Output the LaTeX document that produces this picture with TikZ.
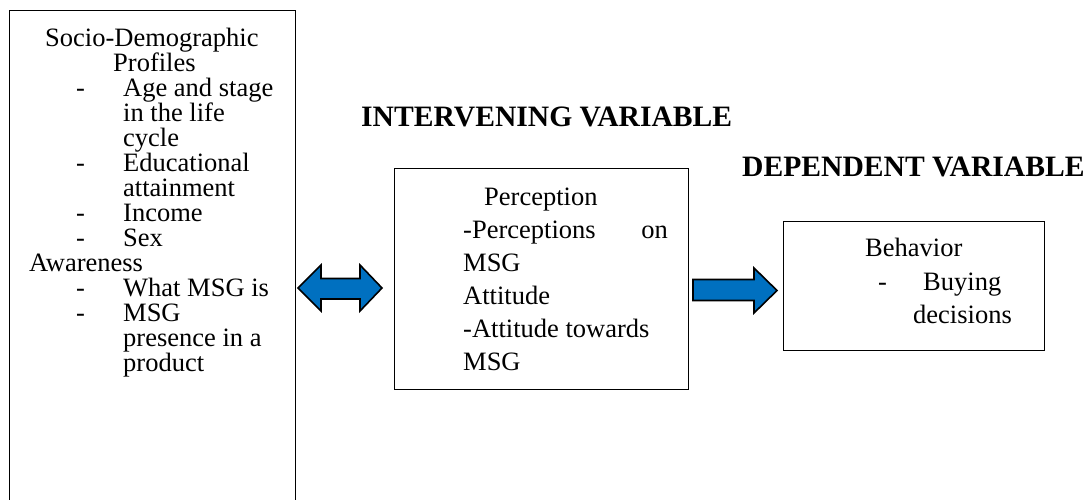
\documentclass[tikz,border=0pt]{standalone}
\usepackage{fontspec}
\setmainfont{Liberation Serif}
\definecolor{arrowblue}{RGB}{0,112,192}
\begin{document}
\begin{tikzpicture}[x=1pt,y=-1pt,
  boxstyle/.style={draw=black,line width=0.9pt,inner sep=0pt,anchor=north west},
  txt/.style={inner sep=0pt,anchor=base west,font=\fontsize{26.5}{26}\selectfont},
  txte/.style={inner sep=0pt,anchor=base east,font=\fontsize{26.5}{26}\selectfont},
  head/.style={inner sep=0pt,anchor=base west,font=\fontsize{29.6}{30}\selectfont\bfseries},
  blockarrow/.style={draw=black,line width=1.6pt,fill=arrowblue,line join=miter}]
\useasboundingbox (0,0) rectangle (1085,499);
% boxes
\node[boxstyle,minimum width=286pt,minimum height=530pt] (L) at (9,10) {};
\node[boxstyle,minimum width=294pt,minimum height=221pt] (M) at (394,168) {};
\node[boxstyle,minimum width=261pt,minimum height=129pt] (R) at (783,221) {};
% headings
\node[head] (h1) at (361,126) {INTERVENING VARIABLE};
\node[head] (h2) at (742,176) {DEPENDENT VARIABLE};
% left box text
\node[txt] (l1) at (45,46.5) {Socio-Demographic};
\node[txt] (l2) at (113,71.5) {Profiles};
\node[txt] (d1) at (76,96.5) {-};
\node[txt] (l3) at (123,96.5) {Age and stage};
\node[txt] (l4) at (123,121.5) {in the life};
\node[txt] (l5) at (123,146.5) {cycle};
\node[txt] (d2) at (76,171.5) {-};
\node[txt] (l6) at (123,171.5) {Educational};
\node[txt] (l7) at (123,196.5) {attainment};
\node[txt] (d3) at (76,221.5) {-};
\node[txt] (l8) at (123,221.5) {Income};
\node[txt] (d4) at (76,246.5) {-};
\node[txt] (l9) at (123,246.5) {Sex};
\node[txt] (l10) at (29,271.5) {Awareness};
\node[txt] (d5) at (76,296.5) {-};
\node[txt] (l11) at (123,296.5) {What MSG is};
\node[txt] (d6) at (76,321.5) {-};
\node[txt] (l12) at (123,321.5) {MSG};
\node[txt] (l13) at (123,346.5) {presence in a};
\node[txt] (l14) at (123,371.5) {product};
% middle box text
\node[txt] (m1) at (484,205) {Perception};
\node[txt] (m2) at (463,238) {-Perceptions};
\node[txte] (m2b) at (668,238) {on};
\node[txt] (m3) at (463,271) {MSG};
\node[txt] (m4) at (463,304) {Attitude};
\node[txt] (m5) at (463,337) {-Attitude towards};
\node[txt] (m6) at (463,370) {MSG};
% right box text
\node[txt] (r1) at (865,256) {Behavior};
\node[txt] (rd) at (878,290) {-};
\node[txt] (r2) at (923,290) {Buying};
\node[txt] (r3) at (913,323) {decisions};
% block arrows
\draw[blockarrow] (298,288) -- (321,265) -- (321,278.5) -- (360,278.5) -- (360,265)
  -- (382,288) -- (360,311) -- (360,299) -- (321,299) -- (321,311) -- cycle;
\draw[blockarrow] (693,279.5) -- (754,279.5) -- (754,268) -- (777,290.5) -- (754,313)
  -- (754,300.5) -- (693,300.5) -- cycle;
\end{tikzpicture}
\end{document}
